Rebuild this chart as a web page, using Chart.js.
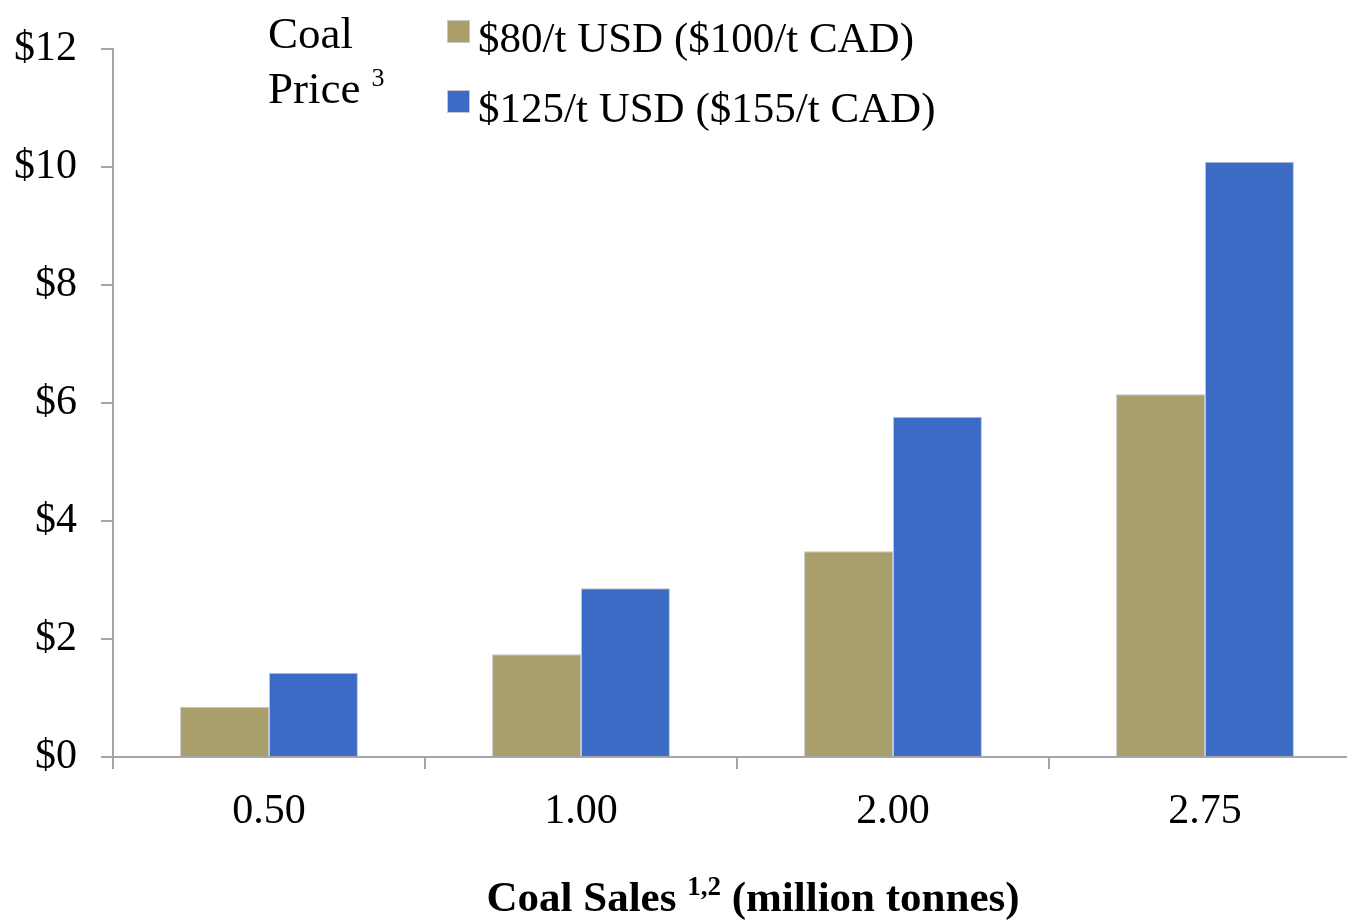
<!DOCTYPE html>
<html>
<head>
<meta charset="utf-8">
<script src="https://cdn.jsdelivr.net/npm/chart.js@4"></script>
<style>
  html, body { margin: 0; padding: 0; background: white; overflow: hidden; }
  #wrap { position: relative; width: 1362px; height: 920px; }
</style>
</head>
<body>
<div id="wrap"><canvas id="chart"></canvas></div>
<script>
// coal sales scenarios (million tonnes)
const categories = ['0.50', '1.00', '2.00', '2.75'];
// value per scenario
const price80 = [0.85, 1.74, 3.49, 6.15];
const price125 = [1.43, 2.86, 5.77, 10.09];
const seriesLabels = ['$80/t USD ($100/t CAD)', '$125/t USD ($155/t CAD)'];
const yTicks = [0, 2, 4, 6, 8, 10, 12];

const TAN = '#a99f6b';
const BLUE = '#3b6bc4';
const AXIS = '#a6a6a6';
const SERIF = '"Liberation Serif", "Times New Roman", serif';

// legend + "Coal Price" heading + x axis title, drawn by hand so the
// superscripts come out right
const annotations = {
    id: 'annotations',
    afterDraw: (chart) => {
        const ctx = chart.ctx;
        ctx.save();
        ctx.fillStyle = 'black';
        ctx.textBaseline = 'alphabetic';
        ctx.textAlign = 'left';

        ctx.font = `45px ${SERIF}`;
        ctx.fillText('Coal', 268, 48);
        ctx.fillText('Price', 268, 103);
        const pw = ctx.measureText('Price').width;
        ctx.font = `26px ${SERIF}`;
        ctx.fillText('3', 268 + pw + 11, 86);

        const rows = [52, 122];
        chart.data.datasets.forEach((ds, i) => {
            const y = rows[i];
            ctx.fillStyle = ds.backgroundColor;
            ctx.fillRect(447, y - 32, 23, 23);
            ctx.strokeStyle = '#c8c8c8';
            ctx.lineWidth = 1;
            ctx.strokeRect(447.5, y - 31.5, 22, 22);
            ctx.fillStyle = 'black';
            ctx.font = `43px ${SERIF}`;
            ctx.fillText(ds.label, 478, y);
        });

        // x axis title
        const parts = [
            { t: 'Coal Sales ', f: `bold 43px ${SERIF}`, dy: 0 },
            { t: '1,2', f: `bold 27px ${SERIF}`, dy: -16 },
            { t: ' (million tonnes)', f: `bold 43px ${SERIF}`, dy: 0 },
        ];
        let total = 0;
        parts.forEach(p => { ctx.font = p.f; p.w = ctx.measureText(p.t).width; total += p.w; });
        let x = 753 - total / 2;
        parts.forEach(p => {
            ctx.font = p.f;
            ctx.fillText(p.t, x, 911 + p.dy);
            x += p.w;
        });
        ctx.restore();
    }
};

const bgPlugin = {
    id: 'custom_bg',
    beforeDraw: (chart) => {
        const ctx = chart.ctx;
        ctx.save();
        ctx.fillStyle = 'white';
        ctx.fillRect(0, 0, chart.width, chart.height);
        ctx.restore();
    }
};

Chart.register(bgPlugin, annotations);

new Chart(document.getElementById('chart'), {
    type: 'bar',
    data: {
        labels: categories,
        datasets: [
            { label: seriesLabels[0], data: price80, backgroundColor: TAN },
            { label: seriesLabels[1], data: price125, backgroundColor: BLUE },
        ]
    },
    options: {
        responsive: true,
        maintainAspectRatio: false,
        animation: false,
        layout: { padding: { top: 49, right: 1, left: 0, bottom: 0 } },
        datasets: {
            bar: {
                categoryPercentage: 0.57,
                barPercentage: 1.0,
                borderWidth: 1,
                borderColor: 'rgba(190,190,190,0.9)',
            }
        },
        plugins: {
            legend: { display: false },
            tooltip: { enabled: false },
        },
        scales: {
            x: {
                grid: {
                    offset: true,
                    drawOnChartArea: false,
                    tickLength: 12,
                    color: AXIS,
                    lineWidth: 2,
                },
                border: { color: AXIS, width: 2 },
                ticks: {
                    color: 'black',
                    font: { family: SERIF, size: 42 },
                    padding: 18,
                    maxRotation: 0,
                },
                afterFit: (scale) => { scale.height = 163; },
            },
            y: {
                min: 0,
                max: 12,
                afterBuildTicks: (scale) => { scale.ticks = yTicks.map(v => ({ value: v })); },
                grid: {
                    drawOnChartArea: false,
                    tickLength: 12,
                    color: AXIS,
                    lineWidth: 2,
                },
                border: { color: AXIS, width: 2 },
                ticks: {
                    color: 'black',
                    font: { family: SERIF, size: 42 },
                    padding: 24,
                    callback: (v) => '$' + v,
                },
                afterFit: (scale) => { scale.width = 113; },
            }
        }
    }
});
</script>
</body>
</html>
